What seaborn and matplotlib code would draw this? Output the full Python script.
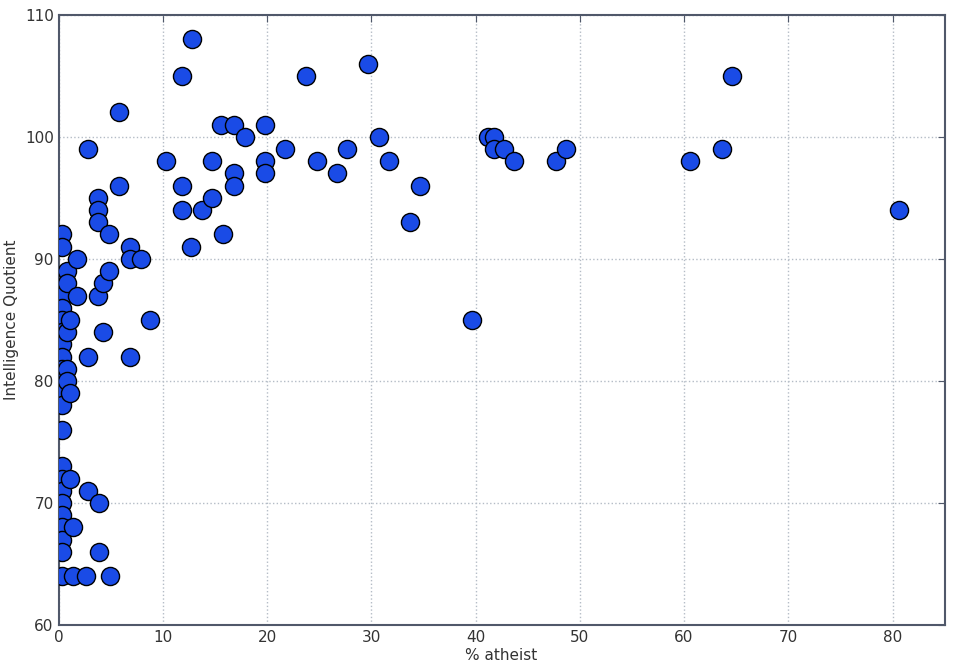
import matplotlib
matplotlib.use('Agg')
import matplotlib.pyplot as plt
import seaborn as sns
import pandas as pd

# values
atheist = [0.3, 0.3, 0.3, 0.3, 0.3, 0.3, 0.3, 0.3, 0.3, 0.3, 0.3,
           0.3, 0.3, 0.3, 0.3, 0.3, 0.3, 0.3, 0.3, 0.3, 0.3, 0.3,
           0.8, 0.8, 0.8, 0.8, 0.8,
           1.1, 1.1, 1.1,
           1.4, 1.4,
           1.8, 1.8,
           2.6,
           2.8, 2.8, 2.8,
           3.8, 3.8, 3.8, 3.8,
           3.9, 3.9,
           4.3, 4.3,
           4.8, 4.8,
           4.9,
           5.8, 5.8,
           6.9, 6.9, 6.9,
           7.9, 8.8, 10.3,
           11.8, 11.8, 11.8,
           12.7, 12.8, 13.8,
           14.7, 14.7,
           15.6, 15.8,
           16.8, 16.8, 16.8,
           17.9,
           19.8, 19.8, 19.8,
           21.7, 23.7, 24.8, 26.7, 27.7, 29.7, 30.7, 31.7, 33.7, 34.7,
           39.7, 41.2, 41.8, 41.8, 42.7, 43.7, 47.7, 48.7,
           60.6, 63.6, 64.6, 80.6]
iq = [92, 91, 87, 86, 85, 84, 83, 82, 81, 80, 79,
      78, 76, 73, 72, 71, 70, 69, 68, 67, 66, 64,
      89, 88, 84, 81, 80,
      85, 79, 72,
      68, 64,
      90, 87,
      64,
      99, 82, 71,
      95, 94, 93, 87,
      70, 66,
      88, 84,
      92, 89,
      64,
      102, 96,
      91, 90, 82,
      90, 85, 98,
      105, 96, 94,
      91, 108, 94,
      98, 95,
      101, 92,
      101, 97, 96,
      100,
      101, 98, 97,
      99, 105, 98, 97, 99, 106, 100, 98, 93, 96,
      85, 100, 100, 99, 99, 98, 98, 99,
      98, 99, 105, 94]

df = pd.DataFrame({'atheist': atheist, 'iq': iq})

sns.set_style("white")
plt.rcParams['font.family'] = ['DejaVu Sans']

fig, ax = plt.subplots(figsize=(9.6, 6.7), dpi=100)
plt.subplots_adjust(left=0.061, bottom=0.067, right=0.984, top=0.978)

sns.scatterplot(x='atheist', y='iq', data=df, ax=ax, s=170,
                color='#1a4be6', edgecolor='black', linewidth=1.0, zorder=3)

ax.set_xlim(0, 85)
ax.set_ylim(60, 110)
ax.set_xticks(range(0, 90, 10))
ax.set_yticks(range(60, 111, 10))
ax.grid(True, linestyle=':', color='#b4bcc6', linewidth=1.0)
ax.set_axisbelow(True)

for sp in ax.spines.values():
    sp.set_color('#50586a')
    sp.set_linewidth(1.5)
ax.tick_params(direction='in', length=5, colors='#50586a', labelcolor='#333333',
               labelsize=11, top=True, right=True)
ax.set_xlabel('% atheist', fontsize=11, color='#333333', labelpad=2)
ax.set_ylabel('Intelligence Quotient', fontsize=11, color='#333333', labelpad=4)

plt.savefig('out.png', dpi=100)
